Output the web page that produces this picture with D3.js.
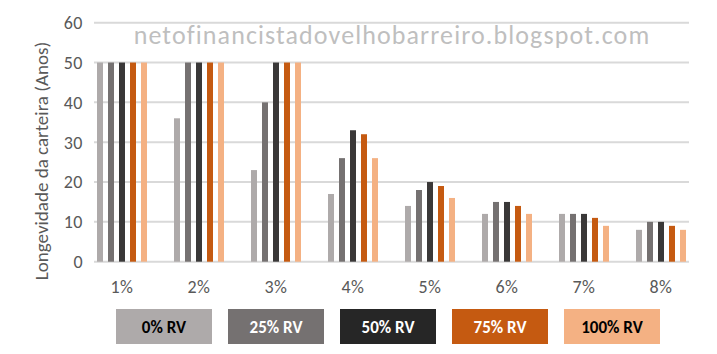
<!DOCTYPE html>
<html>
<head>
<meta charset="utf-8">
<script src="https://cdn.jsdelivr.net/npm/d3@7"></script>
<style>
  body { margin: 0; background: #fff; }
  svg { display: block; font-family: Calibri, Carlito, "Open Sans", sans-serif; }
</style>
</head>
<body>
<svg id="chart" width="717" height="354"></svg>
<script>
// categories (withdrawal rate) and series (% RV)
let categories = ["1%", "2%", "3%", "4%", "5%", "6%", "7%", "8%"];
let seriesNames = ["0% RV", "25% RV", "50% RV", "75% RV", "100% RV"];
let seriesColors = ["#AEAAAA", "#757171", "#3A3838", "#C55A11", "#F4B183"];
let legendFill = ["#AEAAAA", "#757171", "#262626", "#C55A11", "#F4B183"];
let legendText = ["#000", "#fff", "#fff", "#fff", "#000"];

let rv0   = [50, 36, 23, 17, 14, 12, 12, 8];
let rv25  = [50, 50, 40, 26, 18, 15, 12, 10];
let rv50  = [50, 50, 50, 33, 20, 15, 12, 10];
let rv75  = [50, 50, 50, 32, 19, 14, 11, 9];
let rv100 = [50, 50, 50, 26, 16, 12, 9, 8];
let yTicks = [0, 10, 20, 30, 40, 50, 60];

let seriesValues = [rv0, rv25, rv50, rv75, rv100];

function createBarChart() {
    let svg = d3.select('#chart');

    // plot area
    let gridLeft = 94, gridRight = 689;

    // y scale
    let yScale = d3.scaleLinear()
        .domain([0, 60])
        .range([261.7, 22.7]);

    // x scale for categories
    let xScale = d3.scaleBand()
        .domain(categories)
        .range([83.5, 699.5]);

    // x scale for series within a category
    let xInner = d3.scaleBand()
        .domain(seriesNames)
        .range([-25, 25])
        .paddingInner(0.455);

    // gridlines
    svg.append('g')
       .selectAll('line')
       .data(yTicks)
       .enter()
       .append('line')
       .attr('x1', gridLeft)
       .attr('x2', gridRight)
       .attr('y1', d => yScale(d))
       .attr('y2', d => yScale(d))
       .attr('stroke', '#D9D9D9')
       .attr('stroke-width', 2);

    // y tick labels
    svg.append('g')
       .selectAll('text')
       .data(yTicks)
       .enter()
       .append('text')
       .attr('x', 83)
       .attr('y', d => yScale(d))
       .attr('dy', '0.35em')
       .attr('text-anchor', 'end')
       .attr('font-size', '18px')
       .attr('letter-spacing', '0.5px')
       .attr('fill', '#595959')
       .text(d => d);

    // y axis title
    svg.append('text')
       .attr('transform', 'translate(48,161) rotate(-90)')
       .attr('text-anchor', 'middle')
       .attr('font-size', '19px')
       .attr('fill', '#595959')
       .text('Longevidade da carteira (Anos)');

    // watermark
    svg.append('text')
       .attr('x', 392)
       .attr('y', 44)
       .attr('text-anchor', 'middle')
       .attr('font-size', '26px')
       .attr('letter-spacing', '1.1px')
       .attr('fill', '#BFBFBF')
       .text('netofinancistadovelhobarreiro.blogspot.com');

    // bars
    seriesValues.forEach((vals, i) => {
        svg.append('g')
           .selectAll('rect')
           .data(vals)
           .enter()
           .append('rect')
           .attr('x', (d, j) => xScale(categories[j]) + xScale.bandwidth() / 2 + xInner(seriesNames[i]))
           .attr('y', d => yScale(d))
           .attr('width', xInner.bandwidth())
           .attr('height', d => yScale(0) - yScale(d))
           .attr('fill', seriesColors[i]);
    });

    // x labels
    svg.append('g')
       .selectAll('text')
       .data(categories)
       .enter()
       .append('text')
       .attr('x', d => xScale(d) + xScale.bandwidth() / 2)
       .attr('y', 293)
       .attr('text-anchor', 'middle')
       .attr('font-size', '18px')
       .attr('letter-spacing', '0.5px')
       .attr('fill', '#595959')
       .text(d => d);

    // legend boxes
    let legendX = d3.scalePoint()
        .domain(seriesNames)
        .range([116, 564]);

    let legend = svg.append('g')
        .selectAll('g')
        .data(seriesNames)
        .enter()
        .append('g')
        .attr('transform', d => `translate(${legendX(d)},309)`);

    legend.append('rect')
        .attr('width', 96)
        .attr('height', 35)
        .attr('fill', (d, i) => legendFill[i]);

    legend.append('text')
        .attr('x', 48)
        .attr('y', 18)
        .attr('dy', '0.35em')
        .attr('text-anchor', 'middle')
        .attr('font-size', '17px')
        .attr('font-weight', 'bold')
        .attr('fill', (d, i) => legendText[i])
        .text(d => d);
}

window.onload = function() {
    createBarChart();
}
</script>
</body>
</html>
